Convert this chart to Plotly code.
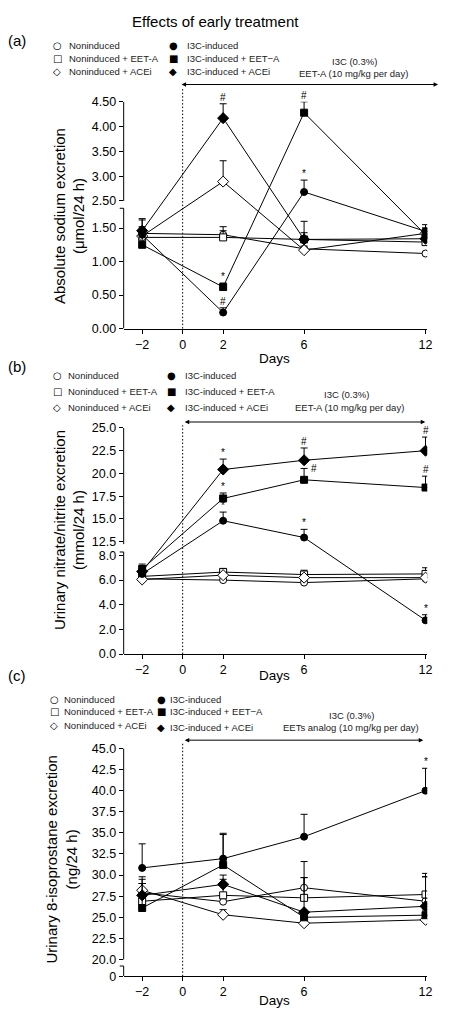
import plotly.graph_objects as go

PAGE_W, PAGE_H = 451, 1023
BODY = 8  # default page margin around the figure div
W, H = PAGE_W - BODY, PAGE_H - BODY

# ---------------- data ----------------
days = [-2, 2, 6, 12]
day_tickvals = [-2, 0, 2, 6, 12]
day_ticktext = ['\u22122', '0', '2', '6', '12']

# (a) Absolute sodium excretion (µmol/24 h)
a_non = [1.42, 1.40, 1.19, 1.12]
a_non_err = [0.10, 0.06, 0.04, 0.03]
a_neet = [1.36, 1.36, 1.33, 1.29]
a_neet_err = [0.14, 0.16, 0.10, 0.08]
a_nace = [1.38, 2.89, 1.17, 1.42]
a_nace_err = [0.08, 0.42, 0.04, 0.08]
a_i3c = [1.40, 0.24, 2.68, 1.45]
a_i3c_err = [0.22, 0.07, 0.24, 0.10]
a_ieet = [1.25, 0.62, 4.28, 1.40]
a_ieet_err = [0.12, 0.06, 0.22, 0.10]
a_iace = [1.46, 4.17, 1.33, 1.34]
a_iace_err = [0.18, 0.29, 0.27, 0.12]
a_i3c_sig = ['', '#', '*', '']
a_ieet_sig = ['', '*', '#', '']
a_iace_sig = ['', '#', '', '']
a_ticks_lower = [0.0, 0.5, 1.0, 1.5]
a_ticks_upper = [2.5, 3.0, 3.5, 4.0, 4.5]

# (b) Urinary nitrate/nitrite excretion (mmol/24 h)
b_non = [6.10, 6.00, 5.80, 6.10]
b_non_err = [0.20, 0.15, 0.15, 0.20]
b_neet = [6.30, 6.65, 6.45, 6.50]
b_neet_err = [0.50, 0.30, 0.35, 0.50]
b_nace = [6.05, 6.40, 6.20, 6.20]
b_nace_err = [0.20, 0.20, 0.20, 0.20]
b_i3c = [6.50, 14.80, 12.95, 2.74]
b_i3c_err = [0.40, 0.95, 0.90, 0.45]
b_ieet = [6.90, 17.25, 19.30, 18.45]
b_ieet_err = [0.40, 0.60, 1.25, 1.25]
b_iace = [6.70, 20.43, 21.45, 22.50]
b_iace_err = [0.45, 1.15, 1.35, 1.50]
b_i3c_sig = ['', '*', '*', '*']
b_ieet_sig = ['', '*', '#', '#']
b_iace_sig = ['', '*', '#', '#']
b_ticks_lower = [0.0, 2.0, 4.0, 6.0, 8.0]
b_ticks_upper = [12.5, 15.0, 17.5, 20.0, 22.5, 25.0]

# (c) Urinary 8-isoprostane excretion (ng/24 h)
c_non = [27.90, 26.85, 28.50, 26.90]
c_non_err = [1.10, 0.80, 3.10, 3.30]
c_neet = [26.90, 27.60, 27.30, 27.70]
c_neet_err = [2.90, 1.90, 2.40, 2.10]
c_nace = [28.20, 25.30, 24.30, 24.70]
c_nace_err = [0.80, 0.60, 0.60, 0.60]
c_i3c = [30.85, 31.95, 34.55, 40.00]
c_i3c_err = [2.85, 3.00, 2.65, 2.65]
c_ieet = [26.10, 31.20, 25.00, 25.25]
c_ieet_err = [3.40, 3.60, 0.60, 0.60]
c_iace = [27.60, 28.90, 25.60, 26.30]
c_iace_err = [1.40, 1.10, 4.10, 3.50]
c_i3c_sig = ['', '', '', '*']
c_ticks_lower = [0]
c_ticks_upper = [20.0, 22.5, 25.0, 27.5, 30.0, 32.5, 35.0, 37.5, 40.0, 42.5, 45.0]

# ---------------- helpers ----------------
FONT = 'Liberation Sans, Arial, sans-serif'
GLYPH_FONT = 'DejaVu Sans'


def px_x(px):
    return (px - BODY) / W


def px_y(py):
    return 1 - (py - BODY) / H


def make_tf(lower_scale, cut, up_start, up_base, up_scale):
    def tf(v):
        if v <= cut:
            return v * lower_scale
        return up_base + (v - up_start) * up_scale
    return tf


panels = [
    dict(
        tag='(a)', tag_y=34,
        bottom=326, top=96,
        tf=make_tf(68.0, 2.0, 2.5, 129.5, 50.25),
        lower_top=122, upper_bottom=129.5,
        ticks_lower=a_ticks_lower, ticks_upper=a_ticks_upper, fmt='{:.2f}',
        vals=[a_non, a_neet, a_nace, a_i3c, a_ieet, a_iace],
        errs=[a_non_err, a_neet_err, a_nace_err, a_i3c_err, a_ieet_err, a_iace_err],
        sigs=[None, None, None, a_i3c_sig, a_ieet_sig, a_iace_sig],
        right_sig=[],
        labels=['Noninduced', 'Noninduced + EET-A', 'Noninduced + ACEi',
                'I3C-induced', 'I3C-induced + EET\u2212A', 'I3C-induced + ACEi'],
        leg_left=(58, 68), leg_right=(175, 187),
        rows_left=[38.7, 51.7, 65], rows_right=[38.7, 51.7, 65],
        note1=('I3C (0.3%)', 358, 55), note2=('EET-A (10 mg/kg per day)', 357, 67),
        arrow_y=78.5, arrow_x0=185, arrow_x1=443, dot_top=82,
        ytitle='Absolute sodium excretion<br>(\u03bcmol/24 h)', ytitle_x=70, ytitle_y=211.5,
        days_y=356,
    ),
    dict(
        tag='(b)', tag_y=364,
        bottom=656, top=426.7,
        tf=make_tf(12.5, 10.0, 12.5, 114.0, 9.22),
        lower_top=103.5, upper_bottom=111.5,
        ticks_lower=b_ticks_lower, ticks_upper=b_ticks_upper, fmt='{:.1f}',
        vals=[b_non, b_neet, b_nace, b_i3c, b_ieet, b_iace],
        errs=[b_non_err, b_neet_err, b_nace_err, b_i3c_err, b_ieet_err, b_iace_err],
        sigs=[None, None, None, b_i3c_sig, b_ieet_sig, b_iace_sig],
        right_sig=[(4, 2)],
        labels=['Noninduced', 'Noninduced + EET-A', 'Noninduced + ACEi',
                'I3C-induced', 'I3C-induced + EET-A', 'I3C-induced + ACEi'],
        leg_left=(58, 67), leg_right=(173, 185),
        rows_left=[373.3, 389.3, 406], rows_right=[373.3, 389.3, 406],
        note1=('I3C (0.3%)', 350, 393), note2=('EET-A (10 mg/kg per day)', 353, 405.5),
        arrow_y=420.7, arrow_x0=188, arrow_x1=430, dot_top=424,
        ytitle='Urinary nitrate/nitrite excretion<br>(mmol/24 h)', ytitle_x=70, ytitle_y=530,
        days_y=678,
    ),
    dict(
        tag='(c)', tag_y=678,
        bottom=982.7, top=751.7,
        tf=make_tf(1.0, 10.0, 20.0, 17.0, 8.56),
        lower_top=10.4, upper_bottom=17.0,
        ticks_lower=c_ticks_lower, ticks_upper=c_ticks_upper, fmt='{:.1f}',
        vals=[c_non, c_neet, c_nace, c_i3c, c_ieet, c_iace],
        errs=[c_non_err, c_neet_err, c_nace_err, c_i3c_err, c_ieet_err, c_iace_err],
        sigs=[None, None, None, c_i3c_sig, None, None],
        right_sig=[],
        labels=['Noninduced', 'Noninduced + EET-A', 'Noninduced + ACEi',
                'I3C-induced', 'I3C-induced + EET\u2212A', 'I3C-induced + ACEi'],
        leg_left=(55, 63), leg_right=(163, 170),
        rows_left=[702.3, 714, 728.7], rows_right=[701.7, 714, 730],
        note1=('I3C (0.3%)', 355, 718.3), note2=('EETs analog (10 mg/kg per day)', 355, 730),
        arrow_y=743.3, arrow_x0=188, arrow_x1=428, dot_top=746,
        ytitle='Urinary 8-isoprostane excretion<br>(ng/24 h)', ytitle_x=62, ytitle_y=864,
        days_y=1007,
    ),
]

styles = [('circle', 'white', 7), ('square', 'white', 7), ('diamond', 'white', 8.5),
          ('circle', 'black', 7), ('square', 'black', 7), ('diamond', 'black', 8.5)]
glyphs = ['\u25cb', '\u25a1', '\u25c7', '\u25cf', '\u25a0', '\u25c6']

X_DOMAIN = [px_x(125), px_x(432)]
PX_PER_DAY = (430.3 - 143.7) / 14
X_RANGE = [-2 - (143.7 - 125) / PX_PER_DAY, 12 + (432 - 430.3) / PX_PER_DAY]

fig = go.Figure()
annotations = []
shapes = []
layout = {}

for p, pan in enumerate(panels):
    n = '' if p == 0 else str(p + 1)
    xa, ya = 'x' + n, 'y' + n
    tf = pan['tf']
    span = pan['bottom'] - pan['top']

    for s in range(6):
        vals, errs = pan['vals'][s], pan['errs'][s]
        sym, fill, size = styles[s]
        ydisp = [tf(v) for v in vals]
        edisp = [tf(v + e) - tf(v) for v, e in zip(vals, errs)]
        fig.add_trace(go.Scatter(
            x=days, y=ydisp, xaxis=xa, yaxis=ya, mode='lines+markers',
            name=pan['labels'][s], customdata=vals, showlegend=False,
            hovertemplate='Day %{x}: %{customdata}<extra>' + pan['labels'][s] + '</extra>',
            line=dict(color='black', width=1),
            marker=dict(symbol=sym, size=size, color=fill, line=dict(color='black', width=1)),
            error_y=dict(type='data', symmetric=False, array=edisp, arrayminus=[0] * len(vals),
                         color='black', thickness=1, width=3.5),
        ))
        sig = pan['sigs'][s]
        if sig:
            for i, mark in enumerate(sig):
                if not mark:
                    continue
                top = tf(vals[i] + errs[i])
                if (s, i) in pan['right_sig']:
                    annotations.append(dict(x=days[i], y=top, xref=xa, yref=ya, text=mark,
                                            showarrow=False, xanchor='left', yanchor='middle',
                                            xshift=5, font=dict(size=10, family=FONT, color='black')))
                else:
                    annotations.append(dict(x=days[i], y=top, xref=xa, yref=ya, text=mark,
                                            showarrow=False, xanchor='center', yanchor='bottom',
                                            yshift=-1, font=dict(size=10, family=FONT, color='black')))

    layout['xaxis' + n] = dict(
        domain=X_DOMAIN, range=X_RANGE, anchor=ya,
        tickvals=day_tickvals, ticktext=day_ticktext,
        ticks='outside', ticklen=4, tickcolor='black', tickwidth=1,
        showline=True, linecolor='black', linewidth=1,
        showgrid=False, zeroline=False,
        tickfont=dict(size=12.5, family=FONT, color='black'),
    )
    tvals = [tf(t) for t in pan['ticks_lower'] + pan['ticks_upper']]
    ttext = [('0' if (t == 0 and p == 2) else pan['fmt'].format(t))
             for t in pan['ticks_lower'] + pan['ticks_upper']]
    layout['yaxis' + n] = dict(
        domain=[px_y(pan['bottom']), px_y(pan['top'])], range=[0, span], anchor=xa,
        tickvals=tvals, ticktext=ttext,
        ticks='outside', ticklen=4, tickcolor='black', tickwidth=1,
        showline=False, showgrid=False, zeroline=False,
        tickfont=dict(size=12.5, family=FONT, color='black'),
    )

    # broken y axis line
    line = dict(color='black', width=1)
    shapes.append(dict(type='line', xref=xa + ' domain', yref=ya, x0=0, x1=0,
                       y0=0, y1=pan['lower_top'], line=line))
    shapes.append(dict(type='line', xref=xa + ' domain', yref=ya, x0=-0.013, x1=0,
                       y0=pan['lower_top'], y1=pan['lower_top'], line=line))
    shapes.append(dict(type='line', xref=xa + ' domain', yref=ya, x0=0, x1=0,
                       y0=pan['upper_bottom'], y1=span, line=line))
    # dotted treatment start line at day 0
    shapes.append(dict(type='line', xref=xa, yref='paper', x0=0, x1=0,
                       y0=px_y(pan['bottom']), y1=px_y(pan['dot_top']),
                       line=dict(color='black', width=1, dash='1.5px,2px')))

    # treatment arrow
    annotations.append(dict(x=px_x(pan['arrow_x1']), y=px_y(pan['arrow_y']), xref='paper', yref='paper',
                            ax=pan['arrow_x0'] - pan['arrow_x1'], ay=0, axref='pixel', ayref='pixel',
                            text='', showarrow=True, arrowside='end+start', arrowhead=2,
                            startarrowhead=2, arrowsize=0.9, startarrowsize=0.9, arrowwidth=1,
                            arrowcolor='black', standoff=0, startstandoff=0))
    for txt, xx, yy in (pan['note1'], pan['note2']):
        annotations.append(dict(x=px_x(xx), y=px_y(yy), xref='paper', yref='paper', text=txt,
                                showarrow=False, xanchor='center', yanchor='middle',
                                font=dict(size=9.5, family=FONT, color='#222')))

    # x title
    annotations.append(dict(x=px_x(278), y=px_y(pan['days_y']), xref='paper', yref='paper',
                            text='Days', showarrow=False, xanchor='center', yanchor='middle',
                            font=dict(size=13.5, family=FONT, color='black')))

    # panel tag
    annotations.append(dict(x=px_x(17), y=px_y(pan['tag_y']), xref='paper', yref='paper',
                            text=pan['tag'], showarrow=False, xanchor='center', yanchor='middle',
                            font=dict(size=15, family=FONT, color='black')))

    # y title
    annotations.append(dict(x=px_x(pan['ytitle_x']), y=px_y(pan['ytitle_y']), xref='paper', yref='paper',
                            text=pan['ytitle'], textangle=-90, showarrow=False,
                            xanchor='center', yanchor='middle',
                            font=dict(size=15, family=FONT, color='black')))

    # legend (glyph + label)
    for s in range(6):
        if s < 3:
            gx, tx = pan['leg_left']
            ry = pan['rows_left'][s]
        else:
            gx, tx = pan['leg_right']
            ry = pan['rows_right'][s - 3]
        annotations.append(dict(x=px_x(gx), y=px_y(ry), xref='paper', yref='paper',
                                text=glyphs[s], showarrow=False, xanchor='center', yanchor='middle',
                                font=dict(size=10, family=GLYPH_FONT, color='black')))
        annotations.append(dict(x=px_x(tx), y=px_y(ry), xref='paper', yref='paper',
                                text=pan['labels'][s], showarrow=False, xanchor='left', yanchor='middle',
                                font=dict(size=9.5, family=FONT, color='#222')))

# overall title
annotations.append(dict(x=px_x(218), y=px_y(15), xref='paper', yref='paper',
                        text='Effects of early treatment', showarrow=False,
                        xanchor='center', yanchor='middle',
                        font=dict(size=15, family=FONT, color='black')))

fig.update_layout(
    width=W, height=H, autosize=False,
    margin=dict(l=0, r=0, t=0, b=0),
    paper_bgcolor='white', plot_bgcolor='white',
    font=dict(family=FONT, color='black'),
    showlegend=False,
    annotations=annotations, shapes=shapes,
    **layout,
)

fig.write_html('out.html')
